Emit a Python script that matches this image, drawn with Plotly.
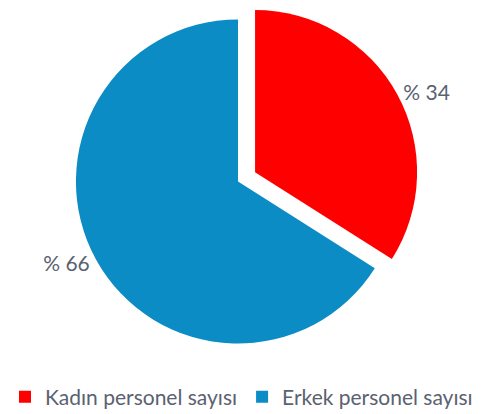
import plotly.graph_objects as go

categories = ["Kadın personel sayısı", "Erkek personel sayısı"]
values = [34, 66]
colors = ["#FF0000", "#0B8CC4"]
pulls = [0.12, 0]
labels_text = [f"% {v}" for v in values]

W, H = 483, 414

fig = go.Figure(go.Pie(
    labels=categories,
    values=values,
    text=labels_text,
    textinfo="text",
    textposition="outside",
    sort=False,
    direction="clockwise",
    rotation=0,
    pull=pulls,
    marker=dict(colors=colors, line=dict(width=0)),
    textfont=dict(family="Lato", size=21, color="#5A6270"),
    domain=dict(x=[55.5 / W, 420.5 / W], y=[1 - 363 / H, 1]),
    hoverinfo="label+percent",
))

fig.update_layout(
    width=W, height=H,
    margin=dict(l=0, r=0, t=0, b=0, autoexpand=False),
    paper_bgcolor="white",
    plot_bgcolor="white",
    font=dict(family="Lato", size=21, color="#5A6270"),
    showlegend=True,
    legend=dict(
        orientation="h",
        x=0.5, xanchor="center",
        y=1 - 397 / H, yanchor="middle",
        font=dict(family="Lato", size=21, color="#5A6270"),
        traceorder="normal",
        itemwidth=30,
    ),
)

fig.write_html(
    "out.html",
    config={"displayModeBar": False},
    post_script="document.body.style.margin='0';document.body.style.overflow='hidden';",
)
